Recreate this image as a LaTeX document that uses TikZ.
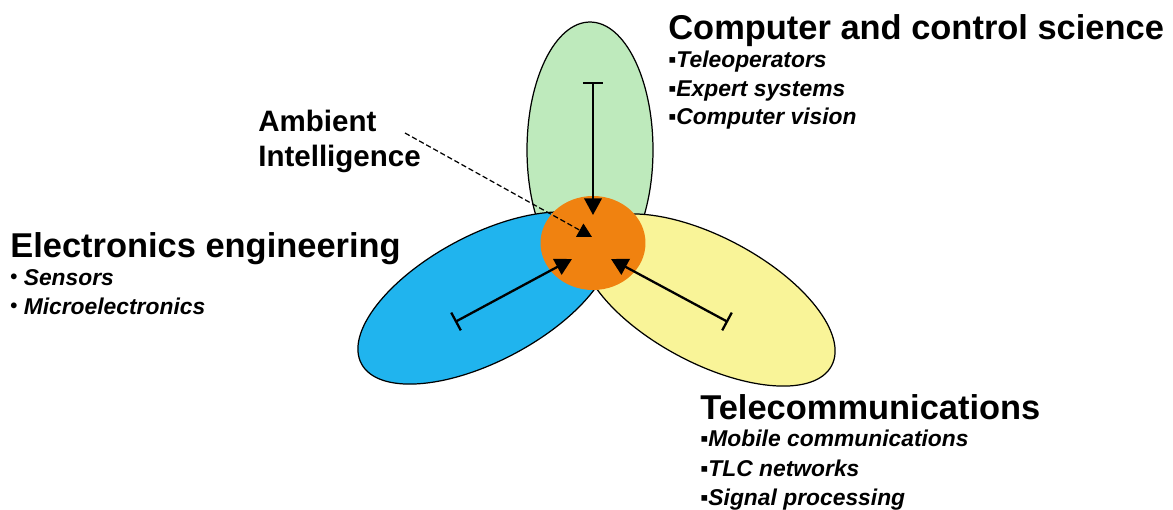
\documentclass[tikz,border=0pt]{standalone}
\usepackage{fontspec}
\setmainfont{Liberation Sans}
\usetikzlibrary{shapes.geometric,arrows.meta}
\definecolor{lobegreen}{RGB}{190,234,188}
\definecolor{lobeblue}{RGB}{32,180,238}
\definecolor{lobeyellow}{RGB}{249,244,152}
\definecolor{coreorange}{RGB}{240,130,16}
\newcommand{\dotmark}{{\fontsize{11.5}{11.5}\selectfont\upshape\raisebox{0.08em}{•}}}
\begin{document}
\begin{tikzpicture}[x=0.02cm,y=-0.02cm,
  lobe/.style={ellipse, draw=black, line width=0.7pt, inner sep=0pt},
  link/.style={line width=1.3pt, {Bar[width=11.5pt]}-{Triangle[length=9.5pt,width=10pt]}},
  pointer/.style={dash pattern=on 3pt off 1.6pt, line width=0.7pt, -{Triangle[length=8pt,width=8.5pt]}},
  head/.style={anchor=base west, inner sep=0pt, font=\fontsize{19.6}{22}\selectfont\bfseries},
  tag/.style={anchor=base west, inner sep=0pt, font=\fontsize{16.8}{19}\selectfont\bfseries},
  item/.style={anchor=base west, inner sep=0pt, font=\fontsize{13}{15}\selectfont\bfseries\itshape},
]
\useasboundingbox (0,0) rectangle (1173,510);
\fill[white] (0,0) rectangle (1173,510);

% the three disciplines as lobes
\node[lobe, fill=lobegreen, minimum width=2.52cm, minimum height=5.12cm] (ccs) at (590,150) {};
\node[lobe, fill=lobeblue, minimum width=5.6cm, minimum height=2.52cm, rotate=28] (ee) at (485,298) {};
\node[lobe, fill=lobeyellow, minimum width=5.6cm, minimum height=2.52cm, rotate=-28] (tlc) at (708,300) {};

% ambient intelligence core
\node[ellipse, fill=coreorange, inner sep=0pt, minimum width=2.1cm, minimum height=1.88cm] (ai) at (593,243) {};

% arrow ends
\coordinate (ccsT) at (593,82);
\coordinate (eeT) at (455,322);
\coordinate (tlcT) at (728,322);
\coordinate (aiN) at (593,215);
\coordinate (aiW) at (572,259);
\coordinate (aiE) at (611,259);
\coordinate (aiC) at (592,237);
\coordinate (tagEnd) at (405,133);

\draw[link] (ccsT) -- (aiN);
\draw[link] (eeT) -- (aiW);
\draw[link] (tlcT) -- (aiE);
\draw[pointer] (tagEnd) -- (aiC);

% labels
\node[tag] (amb1) at (258,132) {Ambient};
\node[tag] (amb2) at (258,166) {Intelligence};

\node[head] (ccsH) at (668,40) {Computer and control science};
\node[item] (ccs1) at (668,68) {▪Teleoperators};
\node[item] (ccs2) at (668,97) {▪Expert systems};
\node[item] (ccs3) at (668,125) {▪Computer vision};

\node[head] (eeH) at (10,257) {Electronics engineering};
\node[item] (ee1) at (10,285) {\dotmark\ Sensors};
\node[item] (ee2) at (10,314) {\dotmark\ Microelectronics};

\node[head] (tlcH) at (700,419) {Telecommunications};
\node[item] (tlc1) at (700,446) {▪Mobile communications};
\node[item] (tlc2) at (700,476) {▪TLC networks};
\node[item] (tlc3) at (700,505) {▪Signal processing};
\end{tikzpicture}
\end{document}
